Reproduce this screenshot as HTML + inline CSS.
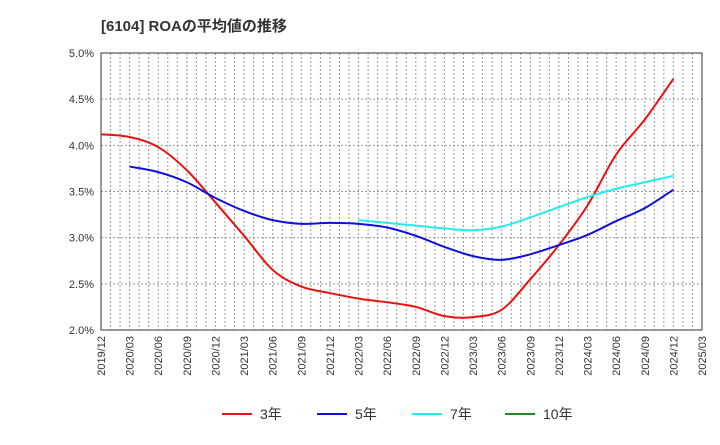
<!DOCTYPE html>
<html><head><meta charset="utf-8"><style>
body{margin:0;background:#fff;font-family:"Liberation Sans","Noto Sans CJK JP",sans-serif}
</style></head><body>
<svg id="c" width="720" height="440" xmlns="http://www.w3.org/2000/svg">
<text x="101" y="31" font-size="15" font-weight="bold" fill="#333">[6104]  ROAの平均値の推移</text>
<g id="grid"></g><g id="axes"></g><g id="series"></g><g id="legend"></g>
</svg>
<script>
const xLabels=["2019/12","2020/03","2020/06","2020/09","2020/12","2021/03","2021/06","2021/09","2021/12","2022/03","2022/06","2022/09","2022/12","2023/03","2023/06","2023/09","2023/12","2024/03","2024/06","2024/09","2024/12","2025/03"];
const yTicks=[2.0,2.5,3.0,3.5,4.0,4.5,5.0];
const roa3=[4.12,4.09,3.98,3.73,3.38,3.02,2.65,2.47,2.40,2.34,2.30,2.25,2.15,2.14,2.22,2.55,2.92,3.35,3.90,4.28,4.72];
const roa5=[null,3.77,3.71,3.60,3.43,3.29,3.19,3.15,3.16,3.15,3.11,3.02,2.90,2.80,2.76,2.82,2.92,3.03,3.18,3.32,3.52];
const roa7=[null,null,null,null,null,null,null,null,null,3.19,3.16,3.13,3.10,3.08,3.12,3.22,3.33,3.44,3.53,3.60,3.67];
const roa10=[];
const NS="http://www.w3.org/2000/svg";
const L=101,R=702,T=53,B=330;
const xs=i=>L+(R-L)*i/(xLabels.length-1);
const ys=v=>B-(v-2)/3*(B-T);
function mk(tag,attrs,parent){const e=document.createElementNS(NS,tag);for(const k in attrs)e.setAttribute(k,attrs[k]);document.getElementById(parent).appendChild(e);return e;}
for(let m=1;m<(xLabels.length-1)*3;m++){const x=L+(R-L)*m/((xLabels.length-1)*3);
const g=mk('line',{x1:x,x2:x,y1:T,y2:B,stroke:'#999','stroke-dasharray':'2,2','stroke-width':1},'grid');

}
yTicks.forEach(v=>{const y=ys(v);
const g=mk('line',{x1:L,x2:R,y1:y,y2:y,stroke:'#999','stroke-dasharray':'2,2'},'grid');


const t=mk('text',{x:L-7,y:y+4,'text-anchor':'end','font-size':11,fill:'#333'},'axes');t.textContent=v.toFixed(1)+'%';

});
const fr=mk('rect',{x:L,y:T,width:R-L,height:B-T,fill:'none',stroke:'#333'},'axes');


xLabels.forEach((s,i)=>{const x=xs(i)+4;
const t=mk('text',{x:x,y:B+6,'text-anchor':'end','font-size':11,fill:'#333',transform:`rotate(-90 ${x} ${B+6})`},'axes');t.textContent=s;

});
function line(arr,color,name){const pts=[];arr.forEach((v,i)=>{if(v!=null)pts.push([xs(i),ys(v)]);});
if(!pts.length)return;let d='M'+pts[0][0]+','+pts[0][1];
for(let i=0;i<pts.length-1;i++){const p0=pts[i-1]||pts[i],p1=pts[i],p2=pts[i+1],p3=pts[i+2]||p2;
const c1=[p1[0]+(p2[0]-p0[0])/6,p1[1]+(p2[1]-p0[1])/6],c2=[p2[0]-(p3[0]-p1[0])/6,p2[1]-(p3[1]-p1[1])/6];
d+=`C${c1[0]},${c1[1]} ${c2[0]},${c2[1]} ${p2[0]},${p2[1]}`;}
const p=mk('path',{d:d,fill:'none',stroke:color,'stroke-width':2,'stroke-linejoin':'round'},'series');

}
line(roa3,'#ee1111','roa-3y-line');line(roa5,'#1111dd','roa-5y-line');line(roa7,'#22eeee','roa-7y-line');line(roa10,'#228822','roa-10y-line');
[['3年','#ee1111',222],['5年','#1111dd',317],['7年','#22eeee',412],['10年','#228822',505]].forEach(([n,c,x])=>{
const l=mk('line',{x1:x,x2:x+30,y1:414,y2:414,stroke:c,'stroke-width':2},'legend');


const t=mk('text',{x:x+38,y:419,'font-size':14,fill:'#333'},'legend');t.textContent=n;

});
</script>
</body></html>
